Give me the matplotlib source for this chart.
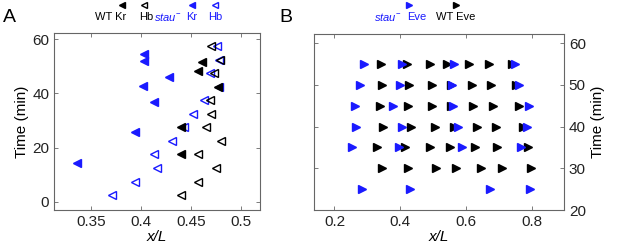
import matplotlib
matplotlib.use("Agg")
import matplotlib.pyplot as plt
from matplotlib.lines import Line2D

plt.rcParams['font.family'] = ['Liberation Sans', 'DejaVu Sans']
plt.rcParams['mathtext.fontset'] = 'custom'
plt.rcParams['mathtext.it'] = 'Liberation Sans:italic'
plt.rcParams['mathtext.rm'] = 'Liberation Sans'

BLUE = '#1a1aff'

# panel A: boundary positions (x/L) vs time (min)
wt_kr_x = [0.461, 0.457, 0.477, 0.440, 0.440]
wt_kr_t = [51.5, 48.3, 42.5, 27.7, 17.8]

wt_hb_x = [0.470, 0.479, 0.473, 0.469, 0.470, 0.465, 0.480, 0.457, 0.475, 0.457, 0.440]
wt_hb_t = [57.5, 52.5, 47.5, 37.5, 32.5, 27.5, 22.5, 17.5, 12.5, 7.5, 2.5]

stau_kr_x = [0.403, 0.403, 0.428, 0.402, 0.413, 0.394, 0.336]
stau_kr_t = [54.6, 51.8, 46.0, 42.8, 37.0, 25.9, 14.3]

stau_hb_x = [0.476, 0.478, 0.469, 0.478, 0.463, 0.452, 0.443, 0.431, 0.413, 0.416, 0.394, 0.371]
stau_hb_t = [57.5, 52.5, 47.5, 42.5, 37.5, 32.5, 27.5, 22.5, 17.5, 12.5, 7.5, 2.5]

# panel B: eve stripe positions per time point
wt_eve = {
    55: [0.341, 0.420, 0.491, 0.543, 0.609, 0.670, 0.741],
    50: [0.346, 0.427, 0.498, 0.553, 0.618, 0.676, 0.752],
    45: [0.339, 0.425, 0.497, 0.554, 0.621, 0.683, 0.762],
    40: [0.348, 0.434, 0.505, 0.564, 0.633, 0.691, 0.773],
    35: [0.329, 0.414, 0.491, 0.552, 0.626, 0.695, 0.790],
    30: [0.344, 0.425, 0.508, 0.570, 0.646, 0.711, 0.797],
}
stau_eve = {
    55: [0.290, 0.407, 0.564, 0.749],
    50: [0.278, 0.400, 0.558, 0.760],
    45: [0.262, 0.379, 0.562, 0.792],
    40: [0.267, 0.404, 0.577, 0.787],
    35: [0.253, 0.397, 0.587, 0.767],
    25: [0.285, 0.430, 0.673, 0.795],
}

FS = 10
ms = 5.5


def style_axes(ax):
    for s in ax.spines.values():
        s.set_color('#666666')
        s.set_linewidth(0.8)
    ax.tick_params(direction='in', length=3, width=0.6, color='#666666',
                   labelsize=FS + 1, labelcolor='#222222',
                   top=True, right=True, bottom=True, left=True)


fig = plt.figure(figsize=(6.17, 2.5), dpi=100)

# ---- panel A
axA = fig.add_axes([0.0875, 0.16, 0.334, 0.708])
axA.plot(stau_hb_x, stau_hb_t, '<', ms=ms, mfc='none', mec=BLUE, mew=1.0, ls='none')
axA.plot(wt_hb_x, wt_hb_t, '<', ms=ms, mfc='none', mec='black', mew=1.0, ls='none')
axA.plot(stau_kr_x, stau_kr_t, '<', ms=ms, color=BLUE, ls='none')
axA.plot(wt_kr_x, wt_kr_t, '<', ms=ms, color='black', ls='none')
axA.set_xlim(0.313, 0.519)
axA.set_ylim(-3, 62.3)
axA.set_xticks([0.35, 0.4, 0.45, 0.5])
axA.set_xticklabels(['0.35', '0.4', '0.45', '0.5'])
axA.set_yticks([0, 20, 40, 60])
style_axes(axA)
axA.set_xlabel('x/L', fontsize=FS + 1, fontstyle='italic', labelpad=1)
axA.set_ylabel('Time (min)', fontsize=FS + 1, labelpad=2)

# ---- panel B
axB = fig.add_axes([0.509, 0.16, 0.405, 0.704])
for t, xs in wt_eve.items():
    axB.plot(xs, [t] * len(xs), '>', ms=ms, color='black', ls='none')
for t, xs in stau_eve.items():
    axB.plot(xs, [t] * len(xs), '>', ms=ms, color=BLUE, ls='none')
axB.set_xlim(0.138, 0.898)
axB.set_ylim(20, 62.2)
axB.set_xticks([0.2, 0.4, 0.6, 0.8])
axB.set_xticklabels(['0.2', '0.4', '0.6', '0.8'])
axB.set_yticks([20, 30, 40, 50, 60])
style_axes(axB)
axB.tick_params(labelleft=False, labelright=True)
axB.yaxis.set_label_position('right')
axB.set_xlabel('x/L', fontsize=FS + 1, fontstyle='italic', labelpad=1)
axB.set_ylabel('Time (min)', fontsize=FS + 1, labelpad=4)

# panel letters
fig.text(0.005, 0.93, 'A', fontsize=FS + 4, va='center', ha='left')
fig.text(0.453, 0.93, 'B', fontsize=FS + 4, va='center', ha='left')

# legend-like key above the panels
W, H = 617.0, 250.0
ly_m = 1 - 4.5 / H
ly_t = 1 - 17 / H
lfs = 8


def key_marker(px, marker, color, filled=True):
    fig.add_artist(Line2D([px / W], [ly_m], marker=marker, ms=4.5,
                          color=color, mfc=color if filled else 'none',
                          mew=1.0, ls='none', transform=fig.transFigure))


key_marker(121.7, '<', 'black')
key_marker(144, '<', 'black', filled=False)
key_marker(191.7, '<', BLUE)
key_marker(215, '<', BLUE, filled=False)
fig.text(126 / W, ly_t, 'WT Kr', fontsize=lfs, ha='right', va='center')
fig.text(146 / W, ly_t, 'Hb', fontsize=lfs, ha='center', va='center')
fig.text(182 / W, ly_t, r'$stau^{-}$', fontsize=lfs, ha='right', va='center', color=BLUE)
fig.text(192 / W, ly_t, 'Kr', fontsize=lfs, ha='center', va='center', color=BLUE)
fig.text(215.5 / W, ly_t, 'Hb', fontsize=lfs, ha='center', va='center', color=BLUE)

key_marker(409, '>', BLUE)
key_marker(456, '>', 'black')
fig.text(402 / W, ly_t, r'$stau^{-}$', fontsize=lfs, ha='right', va='center', color=BLUE)
fig.text(407 / W, ly_t, 'Eve', fontsize=lfs, ha='left', va='center', color=BLUE)
fig.text(436 / W, ly_t, 'WT Eve', fontsize=lfs, ha='left', va='center')

fig.savefig('out.png', dpi=100)
